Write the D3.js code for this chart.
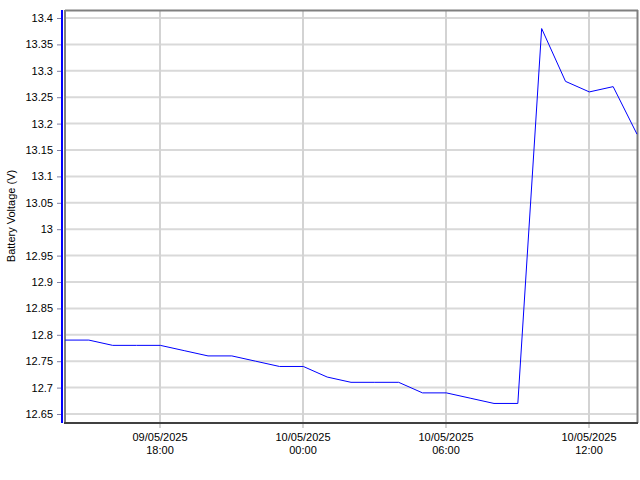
<!DOCTYPE html>
<html><head><meta charset="utf-8">
<script src="https://cdn.jsdelivr.net/npm/d3@7"></script>
<style>html,body{margin:0;padding:0;background:#fff;}svg{display:block;}text{font-family:"Liberation Sans",Arial,sans-serif;}</style>
</head><body>
<svg id="c" width="640" height="480"></svg>
<script>
const times = ["2025-05-09 14:00","2025-05-09 15:00","2025-05-09 16:00","2025-05-09 17:00","2025-05-09 18:00","2025-05-09 19:00","2025-05-09 20:00","2025-05-09 21:00","2025-05-09 22:00","2025-05-09 23:00","2025-05-10 00:00","2025-05-10 01:00","2025-05-10 02:00","2025-05-10 03:00","2025-05-10 04:00","2025-05-10 05:00","2025-05-10 06:00","2025-05-10 07:00","2025-05-10 08:00","2025-05-10 09:00","2025-05-10 10:00","2025-05-10 11:00","2025-05-10 12:00","2025-05-10 13:00","2025-05-10 14:00"];
const voltage = [12.79,12.79,12.78,12.78,12.78,12.77,12.76,12.76,12.75,12.74,12.74,12.72,12.71,12.71,12.71,12.69,12.69,12.68,12.67,12.67,13.38,13.28,13.26,13.27,13.18];
const yTicks = [13.4,13.35,13.3,13.25,13.2,13.15,13.1,13.05,13,12.95,12.9,12.85,12.8,12.75,12.7,12.65];
const xTicks = ["2025-05-09 18:00","2025-05-10 00:00","2025-05-10 06:00","2025-05-10 12:00"];
const yLabel = "Battery Voltage (V)";

const parse = d3.timeParse("%Y-%m-%d %H:%M");
const data = times.map((t,i)=>({t:parse(t), v:voltage[i]}));
const xt = xTicks.map(parse);

const L=65, R=637, T=10, B=422;
const x = d3.scaleTime().domain([data[0].t, data[data.length-1].t]).range([L,R]);
const y = d3.scaleLinear().domain([12.65,13.4]).range([414,18]);

const svg = d3.select("#c");

// horizontal grid
svg.append("g").selectAll("line").data(yTicks).join("line")
  .attr("x1",L).attr("x2",R).attr("y1",d=>y(d)).attr("y2",d=>y(d))
  .attr("stroke","#d9d9d9").attr("stroke-width",2);
// vertical grid (extends below as tick)
svg.append("g").selectAll("line").data(xt).join("line")
  .attr("x1",d=>Math.round(x(d))).attr("x2",d=>Math.round(x(d))).attr("y1",T).attr("y2",428)
  .attr("stroke","#d3d3d3").attr("stroke-width",2);

// frame
svg.append("line").attr("x1",L).attr("x2",R+1).attr("y1",10.5).attr("y2",10.5).attr("stroke","#808080").attr("stroke-width",2);
svg.append("line").attr("x1",R+0.5).attr("x2",R+0.5).attr("y1",T).attr("y2",B+1).attr("stroke","#808080").attr("stroke-width",2);
svg.append("line").attr("x1",65).attr("x2",65).attr("y1",T).attr("y2",B+1).attr("stroke","#808080").attr("stroke-width",2);
svg.append("line").attr("x1",64).attr("x2",R+1).attr("y1",423).attr("y2",423).attr("stroke","#404040").attr("stroke-width",2);

// y axis
const yAxis = d3.axisLeft(y).tickValues(yTicks).tickFormat(d=>String(d)).tickSize(4).tickPadding(4);
const ya = svg.append("g").attr("transform","translate(61,0)").call(yAxis);
ya.select(".domain").remove();
ya.selectAll(".tick line").attr("stroke","#8080a0");
ya.selectAll("text").attr("font-size","11px").attr("fill","#000").attr("font-family","'Liberation Sans',Arial,sans-serif");
svg.append("line").attr("x1",62).attr("x2",62).attr("y1",T).attr("y2",B+1).attr("stroke","#0000ff").attr("stroke-width",2);

// x labels
const fd = d3.timeFormat("%d/%m/%Y"), fh = d3.timeFormat("%H:%M");
const xl = svg.append("g").selectAll("text").data(xt).join("text")
  .attr("x",d=>Math.round(x(d))).attr("y",441).attr("text-anchor","middle")
  .attr("font-size","11px").attr("fill","#000");
xl.append("tspan").attr("x",d=>Math.round(x(d))).text(d=>fd(d));
xl.append("tspan").attr("x",d=>Math.round(x(d))).attr("dy",13).text(d=>fh(d));

// y label
svg.append("text").attr("transform","translate(15,216) rotate(-90)").attr("text-anchor","middle")
  .attr("font-size","11px").attr("fill","#000").text(yLabel);

// line
svg.append("path").datum(data)
  .attr("d", d3.line().x(d=>x(d.t)).y(d=>y(d.v)))
  .attr("fill","none").attr("stroke","#0000ff").attr("stroke-width",1);
</script>
</body></html>
